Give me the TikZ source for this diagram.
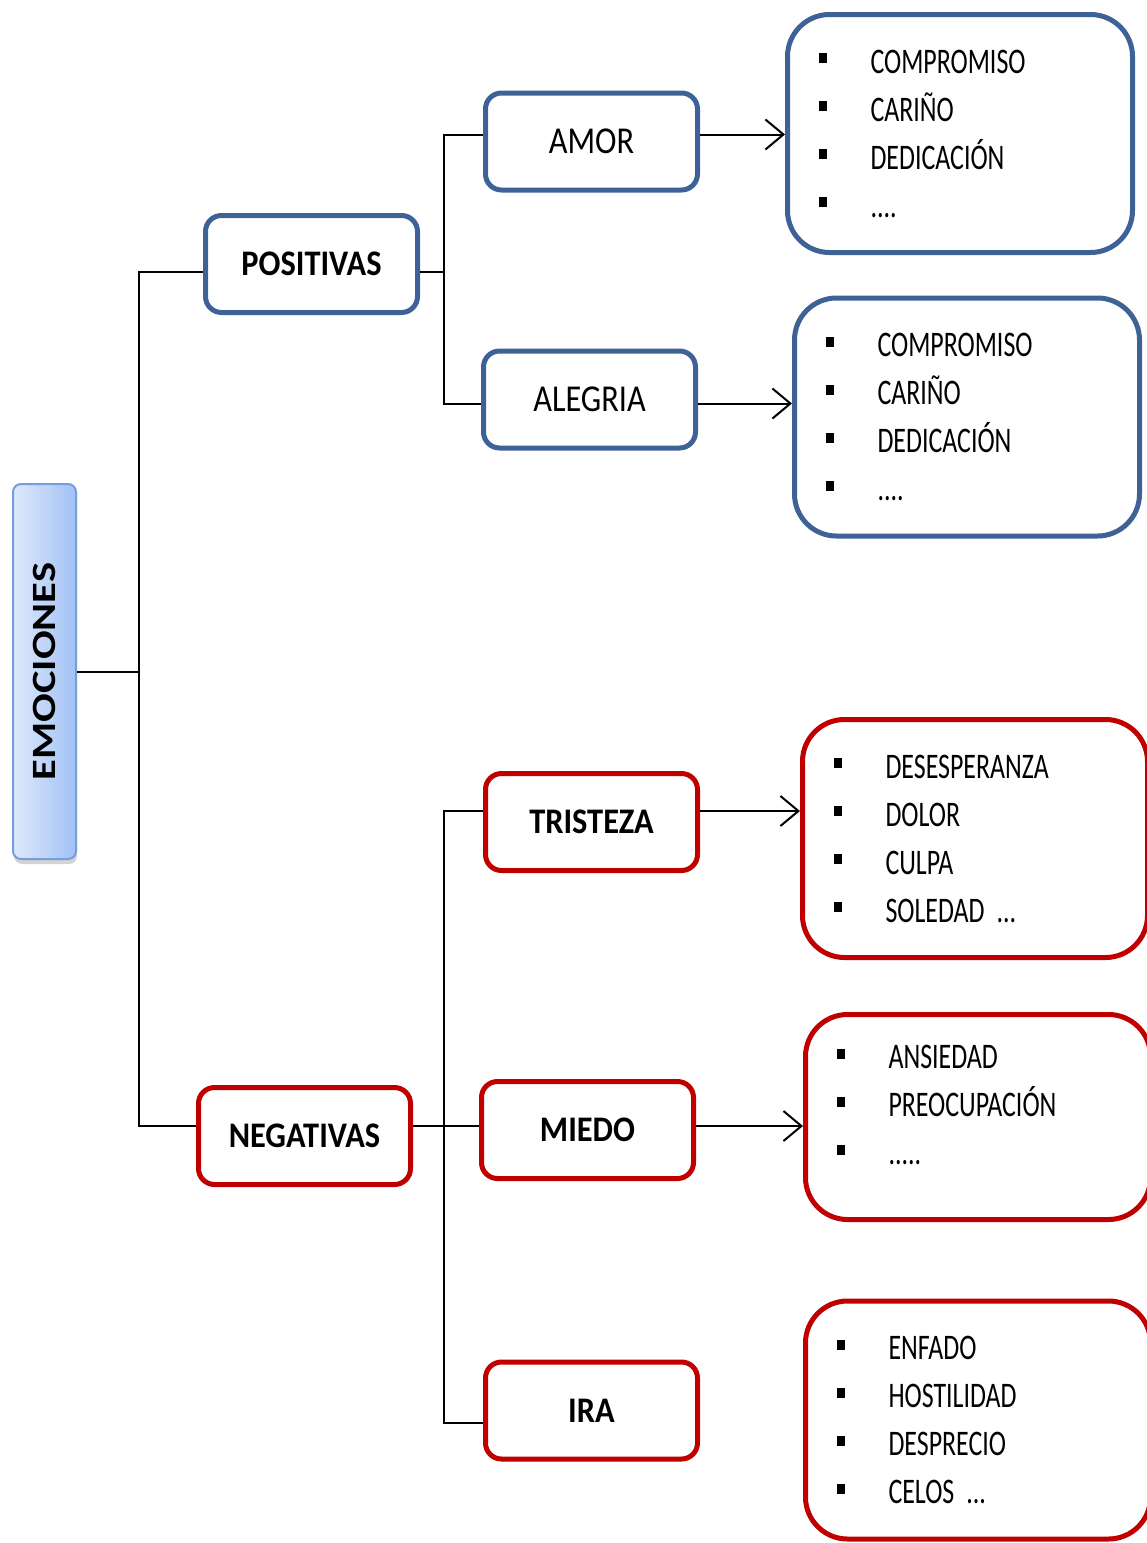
\documentclass[tikz,border=0pt]{standalone}
\usepackage{fontspec}
\setmainfont[FakeStretch=0.72]{Carlito}
\newfontfamily\blockfont[FakeStretch=0.85]{Carlito}
\newfontfamily\heavyfont[FakeStretch=0.9]{Carlito}
\newfontfamily\tallfont[FakeStretch=1.25]{Carlito}
\usepackage{tikz}
\usetikzlibrary{arrows.meta, shadows}
\definecolor{posblue}{RGB}{62,98,150}
\definecolor{negred}{RGB}{192,0,0}
\definecolor{rootlight}{RGB}{222,233,252}
\definecolor{rootdark}{RGB}{162,193,244}
\definecolor{rootline}{RGB}{118,158,222}
\newcommand*{\itm}{\rule[10pt]{8pt}{10pt}\hspace{44pt}}
\tikzstyle{block} = [minimum width=212pt, minimum height=97pt, line width=5pt, rectangle, rounded corners=16pt, font=\blockfont\fontsize{38}{46}\selectfont, inner sep=2pt]
\tikzstyle{heavy} = [font=\heavyfont\bfseries\fontsize{36}{44}\selectfont]
\tikzstyle{positive} = [draw=posblue, block]
\tikzstyle{negative} = [draw=negred, block]
\tikzstyle{list} = [minimum width=345pt, minimum height=238pt, line width=5pt, rectangle, rounded corners=42pt, align=left, text width=283pt, inner xsep=31pt, inner ysep=0pt, font=\fontsize{36}{48}\selectfont]
\tikzstyle{poslist} = [draw=posblue, list]
\tikzstyle{neglist} = [draw=negred, list]
\tikzstyle{root} = [draw=rootline, line width=2pt, rectangle, rounded corners=8pt, left color=rootlight, right color=rootdark, minimum width=63pt, minimum height=375pt, drop shadow={shadow xshift=1pt, shadow yshift=-5pt, opacity=0.35}, font=\tallfont\bfseries\fontsize{34}{40}\selectfont]
\tikzstyle{link} = [line width=2pt]
\tikzstyle{arrow} = [link, -{Straight Barb[length=18pt, width=30pt]}]

\begin{document}
\begin{tikzpicture}[x=1pt, y=-1pt]
    \useasboundingbox (0,0) rectangle (1147,1543);

    % Root.
    \node (emociones) [root] at (44.5,671.5) {\rotatebox{90}{EMOCIONES}};

    % Groups.
    \node (positivas) [positive, heavy] at (311.5,264) {POSITIVAS};
    \node (negativas) [negative, heavy] at (304.5,1136) {NEGATIVAS};

    % Emotions.
    \node (amor) [positive] at (591.5,141.5) {AMOR};
    \node (alegria) [positive] at (589.5,399.5) {ALEGRIA};
    \node (tristeza) [negative, heavy] at (591.5,822) {TRISTEZA};
    \node (miedo) [negative, heavy] at (587.5,1130) {MIEDO};
    \node (ira) [negative, heavy] at (591.5,1410.5) {IRA};

    % Lists.
    \node (listamor) [poslist] at (960,133.5)
        {\itm COMPROMISO\\ \itm CARIÑO\\ \itm DEDICACIÓN\\ \itm ....};
    \node (listalegria) [poslist] at (967,417)
        {\itm COMPROMISO\\ \itm CARIÑO\\ \itm DEDICACIÓN\\ \itm ....};
    \node (listtristeza) [neglist] at (975,838.5)
        {\itm DESESPERANZA\\ \itm DOLOR\\ \itm CULPA\\ \itm SOLEDAD ...};
    \node (listmiedo) [neglist, minimum height=205pt] at (978,1117)
        {\itm ANSIEDAD\\ \itm PREOCUPACIÓN\\ \itm .....\\[-24pt] \mbox{}};
    \node (listira) [neglist] at (978,1420)
        {\itm ENFADO\\ \itm HOSTILIDAD\\ \itm DESPRECIO\\ \itm CELOS ...};

    % Connection points.
    \foreach \n/\d in {positivas/-8, amor/7, alegria/-4, tristeza/11, negativas/10, miedo/4, ira/-12} {
        \coordinate (in\n) at ([yshift=\d pt]\n.west);
        \coordinate (out\n) at ([yshift=\d pt]\n.east);
    }
    \coordinate (trunk) at (139,0);
    \coordinate (branch) at (444,0);

    % Lines.
    \draw [link] (emociones) -- (emociones -| trunk);
    \draw [link] (inpositivas) -| (trunk |- innegativas) -- (innegativas);
    \draw [link] (outpositivas) -- (outpositivas -| branch);
    \draw [link] (inamor) -| (branch |- inalegria) -- (inalegria);
    \draw [link] (intristeza) -| (branch |- inira) -- (inira);
    \draw [link] (outnegativas) -- (inmiedo);

    % Arrows.
    \foreach \n in {amor, alegria, tristeza, miedo} {
        \draw [arrow] (out\n) -- (out\n -| list\n.west);
    }
\end{tikzpicture}
\end{document}
